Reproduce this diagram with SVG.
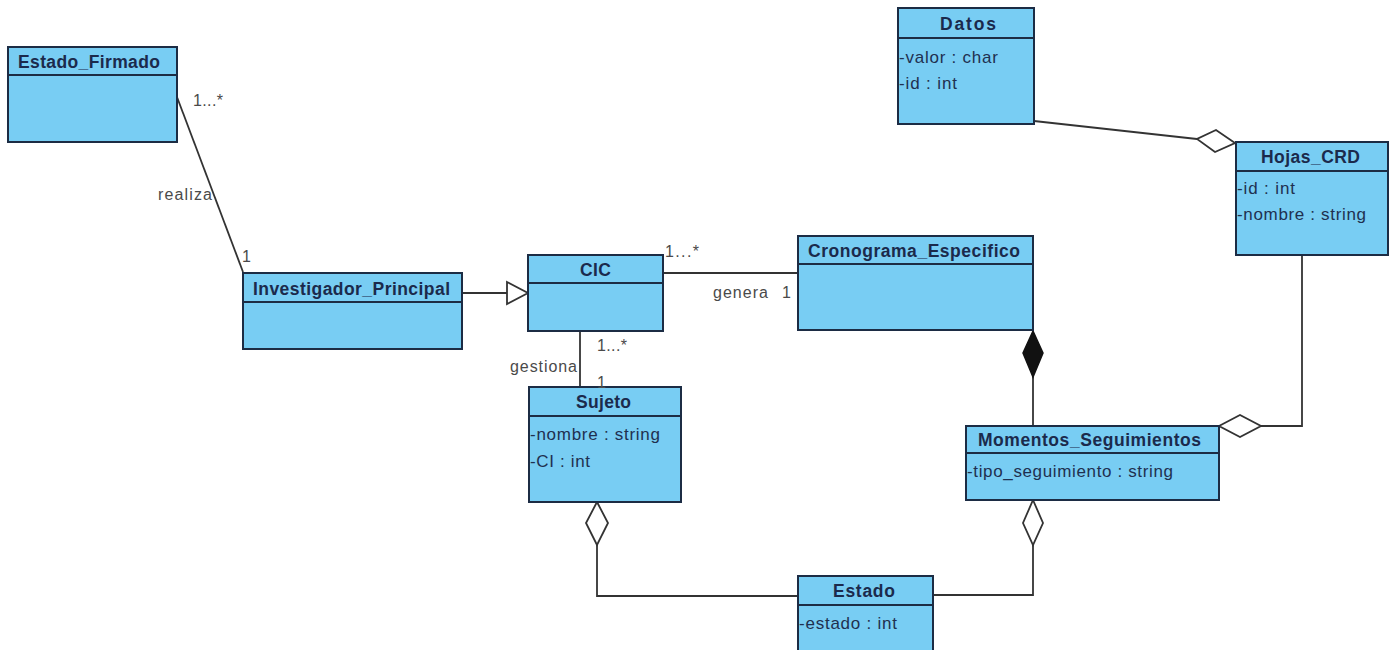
<svg xmlns="http://www.w3.org/2000/svg" width="1394" height="650" viewBox="0 0 1394 650">
<style>
.box{fill:#78CDF3;stroke:#1c2c44;stroke-width:2}
.sep{stroke:#1c2c44;stroke-width:2}
.title{font-family:"Liberation Sans",Arial,sans-serif;font-weight:bold;font-size:17.5px;fill:#1b2a4c}
.attr{font-family:"Liberation Sans",Arial,sans-serif;font-size:17px;fill:#1f3050}
.lbl{font-family:"Liberation Sans",Arial,sans-serif;font-size:16px;fill:#4a4a4a}
.ln{fill:none;stroke:#333;stroke-width:1.8}
.hol{fill:#fff;stroke:#333;stroke-width:1.8}
.sol{fill:#111;stroke:#111;stroke-width:1.5}
</style>
<rect width="1394" height="650" fill="#fff"/>
<g id="connectors">
<line class="ln" x1="177" y1="97" x2="243" y2="272"/>
<line class="ln" x1="462" y1="293" x2="507" y2="293"/>
<polygon class="hol" points="507,282 528,293 507,304"/>
<line class="ln" x1="663" y1="273" x2="798" y2="273"/>
<line class="ln" x1="580" y1="331" x2="580" y2="387"/>
<line class="ln" x1="1033" y1="377" x2="1033" y2="426"/>
<polygon class="sol" points="1033,331 1043,353 1033,377 1023,353"/>
<polyline class="ln" points="1261,426 1302,426 1302,255"/>
<polygon class="hol" points="1219,426 1240,415 1261,426 1240,437"/>
<line class="ln" x1="1034" y1="121" x2="1197" y2="139"/>
<polygon class="hol" points="1235,143 1216,130 1197,139 1215,152"/>
<polyline class="ln" points="597,545 597,596 798,596"/>
<polygon class="hol" points="597,502 608,523 597,545 586,523"/>
<polyline class="ln" points="1033,545 1033,595 933,595"/>
<polygon class="hol" points="1033,500 1043,523 1033,545 1023,523"/>
<text class="lbl" x="193" y="106" textLength="30">1...*</text>
<text class="lbl" x="158" y="200" textLength="54">realiza</text>
<text class="lbl" x="242" y="262">1</text>
<text class="lbl" x="665" y="257" textLength="34">1...*</text>
<text class="lbl" x="713" y="298" textLength="55">genera</text>
<text class="lbl" x="782" y="298">1</text>
<text class="lbl" x="597" y="351" textLength="30">1...*</text>
<text class="lbl" x="510" y="372" textLength="67">gestiona</text>
</g>
<g id="Estado_Firmado">
<rect class="box" x="8" y="47" width="169" height="95"/>
<line class="sep" x1="8" y1="75" x2="177" y2="75"/>
<text class="title" x="18" y="68" textLength="142">Estado_Firmado</text>
</g>
<g id="Investigador_Principal">
<rect class="box" x="243" y="273" width="219" height="76"/>
<line class="sep" x1="243" y1="302" x2="462" y2="302"/>
<text class="title" x="253" y="295" textLength="197">Investigador_Principal</text>
</g>
<g id="CIC">
<rect class="box" x="528" y="255" width="135" height="76"/>
<line class="sep" x1="528" y1="283" x2="663" y2="283"/>
<text class="title" x="580" y="276" textLength="31">CIC</text>
</g>
<g id="Cronograma_Especifico">
<rect class="box" x="798" y="236" width="235" height="94"/>
<line class="sep" x1="798" y1="264" x2="1033" y2="264"/>
<text class="title" x="808" y="257" textLength="212">Cronograma_Especifico</text>
</g>
<g id="Datos">
<rect class="box" x="898" y="8" width="136" height="116"/>
<line class="sep" x1="898" y1="38" x2="1034" y2="38"/>
<text class="title" x="940" y="30" textLength="56">Datos</text>
<text class="attr" x="899" y="63" textLength="99">-valor : char</text>
<text class="attr" x="899" y="89" textLength="58">-id : int</text>
</g>
<g id="Hojas_CRD">
<rect class="box" x="1236" y="142" width="152" height="113"/>
<line class="sep" x1="1236" y1="171" x2="1388" y2="171"/>
<text class="title" x="1261" y="163" textLength="99">Hojas_CRD</text>
<text class="attr" x="1237" y="194" textLength="58">-id : int</text>
<text class="attr" x="1237" y="220" textLength="129">-nombre : string</text>
</g>
<g id="Sujeto">
<rect class="box" x="529" y="387" width="152" height="115"/>
<line class="sep" x1="529" y1="416" x2="681" y2="416"/>
<text class="title" x="576" y="408" textLength="55">Sujeto</text>
<text class="attr" x="530" y="440" textLength="130">-nombre : string</text>
<text class="attr" x="530" y="467" textLength="60">-CI : int</text>
<text class="lbl" x="597" y="388">1</text>
</g>
<g id="Momentos_Seguimientos">
<rect class="box" x="966" y="426" width="253" height="74"/>
<line class="sep" x1="966" y1="453" x2="1219" y2="453"/>
<text class="title" x="978" y="446" textLength="223">Momentos_Seguimientos</text>
<text class="attr" x="967" y="477" textLength="206">-tipo_seguimiento : string</text>
</g>
<g id="Estado">
<rect class="box" x="798" y="576" width="135" height="80"/>
<line class="sep" x1="798" y1="605" x2="933" y2="605"/>
<text class="title" x="833" y="597" textLength="62">Estado</text>
<text class="attr" x="799" y="629" textLength="98">-estado : int</text>
</g>
</svg>
